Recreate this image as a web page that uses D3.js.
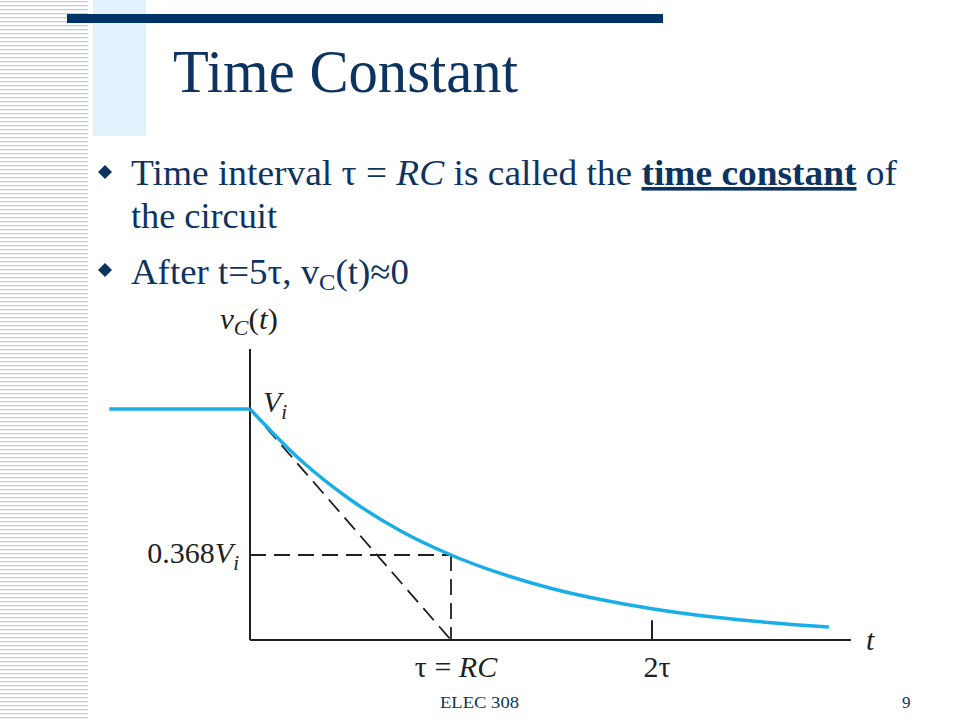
<!DOCTYPE html>
<html><head><meta charset="utf-8">
<script src="https://cdn.jsdelivr.net/npm/d3@7"></script>
<style>html,body{margin:0;padding:0;background:#fff;}svg{display:block;}</style>
</head><body>
<script>
// Data (t in units of tau, v in units of Vi)
const curveT = [0, 0.25, 0.5, 0.75, 1, 1.25, 1.5, 1.75, 2, 2.25, 2.5, 2.75, 2.88];
const curveV = [1, 0.78, 0.607, 0.472, 0.368, 0.287, 0.223, 0.174, 0.135, 0.105, 0.082, 0.064, 0.056];
const preT = [-0.7, 0];
const preV = [1, 1];
const tickT = [1, 2];
const tickLabels = ["τ = RC", "2τ"];
const markV = 0.368;
const bullets = ["Time interval τ = RC is called the time constant of", "the circuit", "After t=5τ, vC(t)≈0"];

const W = 960, H = 720;
const svg = d3.select("body").append("svg").attr("width", W).attr("height", H);
const ser = "'Liberation Serif', 'Times New Roman', serif";

// left stripes
const stripeY = d3.range(0, H, 4);
svg.append("g").selectAll("rect").data(stripeY).join("rect")
  .attr("x", 0).attr("y", d => d + 1).attr("width", 88).attr("height", 1.3).attr("fill", "#c5ccd2");
// light blue band
svg.append("rect").attr("x", 93).attr("y", 0).attr("width", 53).attr("height", 136).attr("fill", "#e2f2fd");
// dark bar
svg.append("rect").attr("x", 67).attr("y", 14).attr("width", 596).attr("height", 9).attr("fill", "#003466");

const navy = "#0d3461";
svg.append("text").attr("x", 173).attr("y", 92).attr("font-family", ser).attr("font-size", 61)
  .attr("fill", navy).attr("textLength", 345).attr("lengthAdjust", "spacingAndGlyphs").text("Time Constant");

// bullets
function diamond(cx, cy) {
  svg.append("path").attr("d", `M${cx},${cy-7}L${cx+7},${cy}L${cx},${cy+7}L${cx-7},${cy}Z`).attr("fill", navy);
}
diamond(105, 172);
diamond(105, 270);
const bt = svg.append("text").attr("x", 131).attr("y", 185).attr("font-family", ser).attr("font-size", 36).attr("fill", navy)
  .attr("textLength", 766).attr("lengthAdjust", "spacingAndGlyphs");
bt.append("tspan").text("Time interval τ = ");
bt.append("tspan").attr("font-style", "italic").text("RC");
bt.append("tspan").text(" is called the ");
bt.append("tspan").attr("font-weight", "bold").attr("text-decoration", "underline").text("time constant");
bt.append("tspan").text(" of");
svg.append("text").attr("x", 131).attr("y", 228).attr("font-family", ser).attr("font-size", 36).attr("fill", navy)
  .attr("textLength", 146).attr("lengthAdjust", "spacingAndGlyphs").text(bullets[1]);
const b3 = svg.append("text").attr("x", 131).attr("y", 284).attr("font-family", ser).attr("font-size", 36).attr("fill", navy)
  .attr("textLength", 278).attr("lengthAdjust", "spacingAndGlyphs");
b3.append("tspan").text("After t=5τ, v");
b3.append("tspan").attr("font-size", 24).attr("dy", 6).text("C");
b3.append("tspan").attr("dy", -6).text("(t)≈0");

// chart
const x = d3.scaleLinear().domain([0, 1]).range([250, 451]);
const y = d3.scaleLinear().domain([0, 1]).range([640, 409]);
const ink = "#231f20";
const g = svg.append("g");
// axes
g.append("line").attr("x1", x(0)).attr("x2", x(0)).attr("y1", y(1.26)).attr("y2", y(0)).attr("stroke", ink).attr("stroke-width", 2);
g.append("line").attr("x1", x(0)).attr("x2", x(2.99)).attr("y1", y(0)).attr("y2", y(0)).attr("stroke", ink).attr("stroke-width", 2);
// tick at 2tau
g.append("line").attr("x1", x(tickT[1])).attr("x2", x(tickT[1])).attr("y1", y(0)).attr("y2", y(0.085)).attr("stroke", ink).attr("stroke-width", 2);
// dashed lines
const dash = "16,8";
g.append("line").attr("x1", x(0)).attr("y1", y(1)).attr("x2", x(1)).attr("y2", y(0)).attr("stroke", ink).attr("stroke-width", 1.8).attr("stroke-dasharray", dash);
g.append("line").attr("x1", x(0)).attr("y1", y(markV)).attr("x2", x(1)).attr("y2", y(markV)).attr("stroke", ink).attr("stroke-width", 1.8).attr("stroke-dasharray", dash);
g.append("line").attr("x1", x(1)).attr("y1", y(markV)).attr("x2", x(1)).attr("y2", y(0)).attr("stroke", ink).attr("stroke-width", 1.8).attr("stroke-dasharray", dash);
// curve
const line = d3.line().x(d => x(d[0])).y(d => y(d[1])).curve(d3.curveMonotoneX);
const blue = "#1aaee8";
g.append("path").attr("d", line(preT.map((t, i) => [t, preV[i]]))).attr("fill", "none").attr("stroke", blue).attr("stroke-width", 3.5);
g.append("path").attr("d", line(curveT.map((t, i) => [t, curveV[i]]))).attr("fill", "none").attr("stroke", blue).attr("stroke-width", 3.5);

// labels
const fs = 30, fsub = 21;
const yl = g.append("text").attr("x", 220).attr("y", 329).attr("font-family", ser).attr("font-size", fs).attr("fill", ink)
  .attr("textLength", 58).attr("lengthAdjust", "spacingAndGlyphs");
yl.append("tspan").attr("font-style", "italic").text("v");
yl.append("tspan").attr("font-style", "italic").attr("font-size", fsub).attr("dy", 6).text("C");
yl.append("tspan").attr("dy", -6).text("(");
yl.append("tspan").attr("font-style", "italic").text("t");
yl.append("tspan").text(")");
const vi = g.append("text").attr("x", 263).attr("y", y(1) + 3).attr("font-family", ser).attr("font-size", fs).attr("fill", ink).attr("font-style", "italic");
vi.append("tspan").text("V");
vi.append("tspan").attr("font-size", fsub).attr("dy", 7).text("i");
const ml = g.append("text").attr("x", 239).attr("y", y(markV) + 8).attr("text-anchor", "end").attr("font-family", ser).attr("font-size", fs).attr("fill", ink);
ml.append("tspan").text("0.368");
ml.append("tspan").attr("font-style", "italic").text("V");
ml.append("tspan").attr("font-style", "italic").attr("font-size", fsub).attr("dy", 7).text("i");
const l1 = g.append("text").attr("x", x(tickT[0]) + 5).attr("y", 677).attr("text-anchor", "middle").attr("font-family", ser).attr("font-size", fs).attr("fill", ink);
l1.append("tspan").text("τ = ");
l1.append("tspan").attr("font-style", "italic").text("RC");
g.append("text").attr("x", x(tickT[1]) + 5).attr("y", 677).attr("text-anchor", "middle").attr("font-family", ser).attr("font-size", fs).attr("fill", ink).text(tickLabels[1]);
g.append("text").attr("x", 866).attr("y", 650).attr("font-family", ser).attr("font-size", fs).attr("font-style", "italic").attr("fill", ink).text("t");

// footer
svg.append("text").attr("x", 440).attr("y", 708).attr("font-family", ser).attr("font-size", 17).attr("fill", navy)
  .attr("textLength", 79).attr("lengthAdjust", "spacingAndGlyphs").text("ELEC 308");
svg.append("text").attr("x", 902).attr("y", 708).attr("font-family", ser).attr("font-size", 17).attr("fill", navy).text("9");
</script>
</body></html>
